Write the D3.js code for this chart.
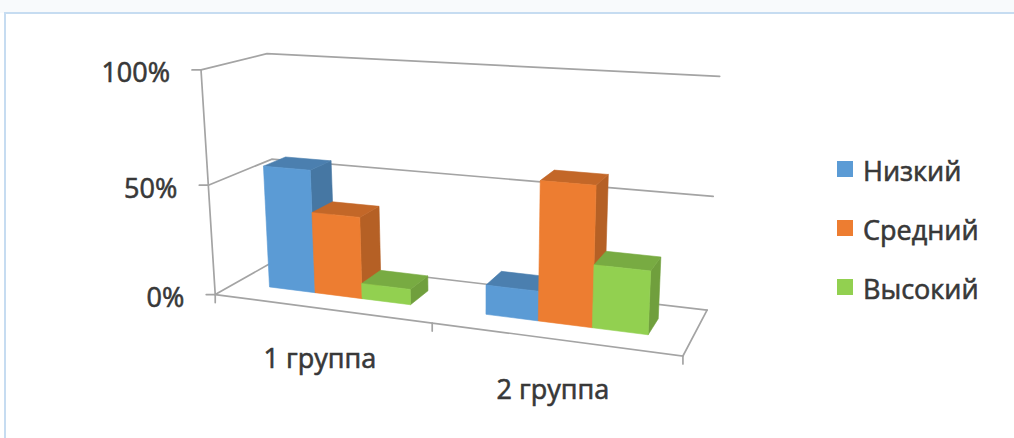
<!DOCTYPE html>
<html>
<head>
<meta charset="utf-8">
<script src="https://cdn.jsdelivr.net/npm/d3@7"></script>
<style>
  html, body { margin: 0; padding: 0; background: #ffffff; }
  svg { display: block; }
  text { font-family: "Open Sans", "Noto Sans", sans-serif; fill: #383838; stroke: #383838; stroke-width: 0.6px; }
</style>
</head>
<body>
<svg id="chart" width="1014" height="438"></svg>
<script>
// ---- data ----
const categories = ["1 группа", "2 группа"];
const seriesNames = ["Низкий", "Средний", "Высокий"];
const lowValues = [56, 13];
const midValues = [37, 60];
const highValues = [7, 27];
const valueTicks = [0, 50, 100];
const tickLabels = ["0%", "50%", "100%"];
const seriesColors = ["#5B9BD5", "#ED7D31", "#92D050"];

const seriesValues = [lowValues, midValues, highValues];

// ---- 3D frame: unit box (x = categories, y = value, z = depth) mapped to screen ----
const frameAnchors = [
  [[0, 0, 0], [215, 294]],
  [[0, 1, 0], [200.7, 70.7]],
  [[1, 0, 0], [683, 357]],
  [[0, 0, 1], [277, 261]],
  [[0, 1, 1], [266.7, 53.3]],
  [[1, 0, 1], [707, 309]],
  [[1, 1, 1], [720, 77]],
  [[0.5, 0, 0], [432, 323.2]],
  [[0, 0.5, 0], [209, 184]],
  [[0, 0.5, 1], [272, 159]],
  [[1, 0.5, 1], [713, 196]]
];

// Least-squares fit of a 3x4 perspective camera matrix (last entry fixed to 1).
function fitCamera(pairs) {
  const A = [], b = [];
  pairs.forEach(([[X, Y, Z], [u, v]]) => {
    A.push([X, Y, Z, 1, 0, 0, 0, 0, -u * X, -u * Y, -u * Z]); b.push(u);
    A.push([0, 0, 0, 0, X, Y, Z, 1, -v * X, -v * Y, -v * Z]); b.push(v);
  });
  const n = 11;
  const M = Array.from({length: n}, () => new Array(n + 1).fill(0));
  for (let r = 0; r < A.length; r++) {
    for (let i = 0; i < n; i++) {
      for (let j = 0; j < n; j++) M[i][j] += A[r][i] * A[r][j];
      M[i][n] += A[r][i] * b[r];
    }
  }
  for (let c = 0; c < n; c++) {
    let piv = c;
    for (let r = c + 1; r < n; r++) if (Math.abs(M[r][c]) > Math.abs(M[piv][c])) piv = r;
    [M[c], M[piv]] = [M[piv], M[c]];
    for (let r = 0; r < n; r++) {
      if (r === c) continue;
      const f = M[r][c] / M[c][c];
      for (let k = c; k <= n; k++) M[r][k] -= f * M[c][k];
    }
  }
  return M.map((row, i) => row[n] / row[i]);
}
const P = fitCamera(frameAnchors);
function project(X, Y, Z) {
  const w = P[8] * X + P[9] * Y + P[10] * Z + 1;
  return [(P[0] * X + P[1] * Y + P[2] * Z + P[3]) / w,
          (P[4] * X + P[5] * Y + P[6] * Z + P[7]) / w];
}

// ---- scales ----
const xCat = d3.scaleBand().domain(categories).range([0, 1]);
const xSeries = d3.scaleBand().domain(seriesNames)
  .range([0, xCat.bandwidth()]).paddingInner(0).paddingOuter(0.75);
const yVal = d3.scaleLinear().domain([0, 100]).range([0, 1]);
const zBar = [0.32, 0.68];

const svg = d3.select("#chart");

// outer frame
svg.append("rect").attr("x", 0).attr("y", 0).attr("width", 1014).attr("height", 13).attr("fill", "#f8fafc");
svg.append("rect").attr("x", 5).attr("y", 13).attr("width", 1030).attr("height", 440)
  .attr("fill", "#ffffff").attr("stroke", "#c6dcf1").attr("stroke-width", 2);

const line = d3.line();
const gridColor = "#a4a4a4";
const grid = svg.append("g").attr("fill", "none").attr("stroke", gridColor)
  .attr("stroke-width", 1.7).attr("stroke-linecap", "round");

// side wall and back wall gridlines
valueTicks.forEach(t => {
  const yy = yVal(t);
  grid.append("path").attr("d", line([project(0, yy, 0), project(0, yy, 1), project(1, yy, 1)]));
});
// value axis line and tick marks
grid.append("path").attr("d", line([project(0, 1, 0), project(0, 0, 0)]));
valueTicks.forEach(t => {
  const p = project(0, yVal(t), 0);
  grid.append("path").attr("d", line([[p[0] - 9, p[1]], p]));
});
// floor front and right edges, category ticks
grid.append("path").attr("d", line([project(0, 0, 0), project(1, 0, 0), project(1, 0, 1)]));
[0, 0.5, 1].forEach(f => {
  const p = project(f, 0, 0);
  grid.append("path").attr("d", line([p, [p[0], p[1] + 8]]));
});

// value axis labels
valueTicks.forEach((t, i) => {
  const p = project(0, yVal(t), 0);
  svg.append("text").attr("x", p[0] - 31).attr("y", p[1] + 2)
    .attr("text-anchor", "end").attr("dominant-baseline", "central")
    .attr("font-size", 27).text(tickLabels[i]);
});

// category labels
categories.forEach(c => {
  const p = project(xCat(c) + xCat.bandwidth() / 2, 0, 0);
  svg.append("text").attr("x", p[0]).attr("y", p[1] + 60)
    .attr("text-anchor", "middle").attr("font-size", 27).text(c);
});

// bars: drawn left to right so nearer columns cover the side faces of earlier ones
const bars = svg.append("g");
categories.forEach((c, ci) => {
  seriesNames.forEach((s, si) => {
    const x0 = xCat(c) + xSeries(s), x1 = x0 + xSeries.bandwidth();
    const v = yVal(seriesValues[si][ci]);
    const [z0, z1] = zBar;
    const base = d3.color(seriesColors[si]);
    const faces = [
      {pts: [[x1, 0, z0], [x1, v, z0], [x1, v, z1], [x1, 0, z1]], fill: base.darker(0.75)},
      {pts: [[x0, v, z0], [x1, v, z0], [x1, v, z1], [x0, v, z1]], fill: base.darker(0.55)},
      {pts: [[x0, 0, z0], [x1, 0, z0], [x1, v, z0], [x0, v, z0]], fill: base}
    ];
    faces.forEach(f => {
      bars.append("path")
        .attr("d", line(f.pts.map(q => project(...q))) + "Z")
        .attr("fill", f.fill).attr("stroke", f.fill).attr("stroke-width", 0.6);
    });
  });
});

// legend
const legend = svg.append("g");
seriesNames.forEach((s, i) => {
  const cy = 169 + i * 59;
  legend.append("rect").attr("x", 837).attr("y", cy - 8).attr("width", 16).attr("height", 16)
    .attr("fill", seriesColors[i]);
  legend.append("text").attr("x", 863).attr("y", cy + 1)
    .attr("dominant-baseline", "central").attr("font-size", 27).text(s);
});
</script>
</body>
</html>
